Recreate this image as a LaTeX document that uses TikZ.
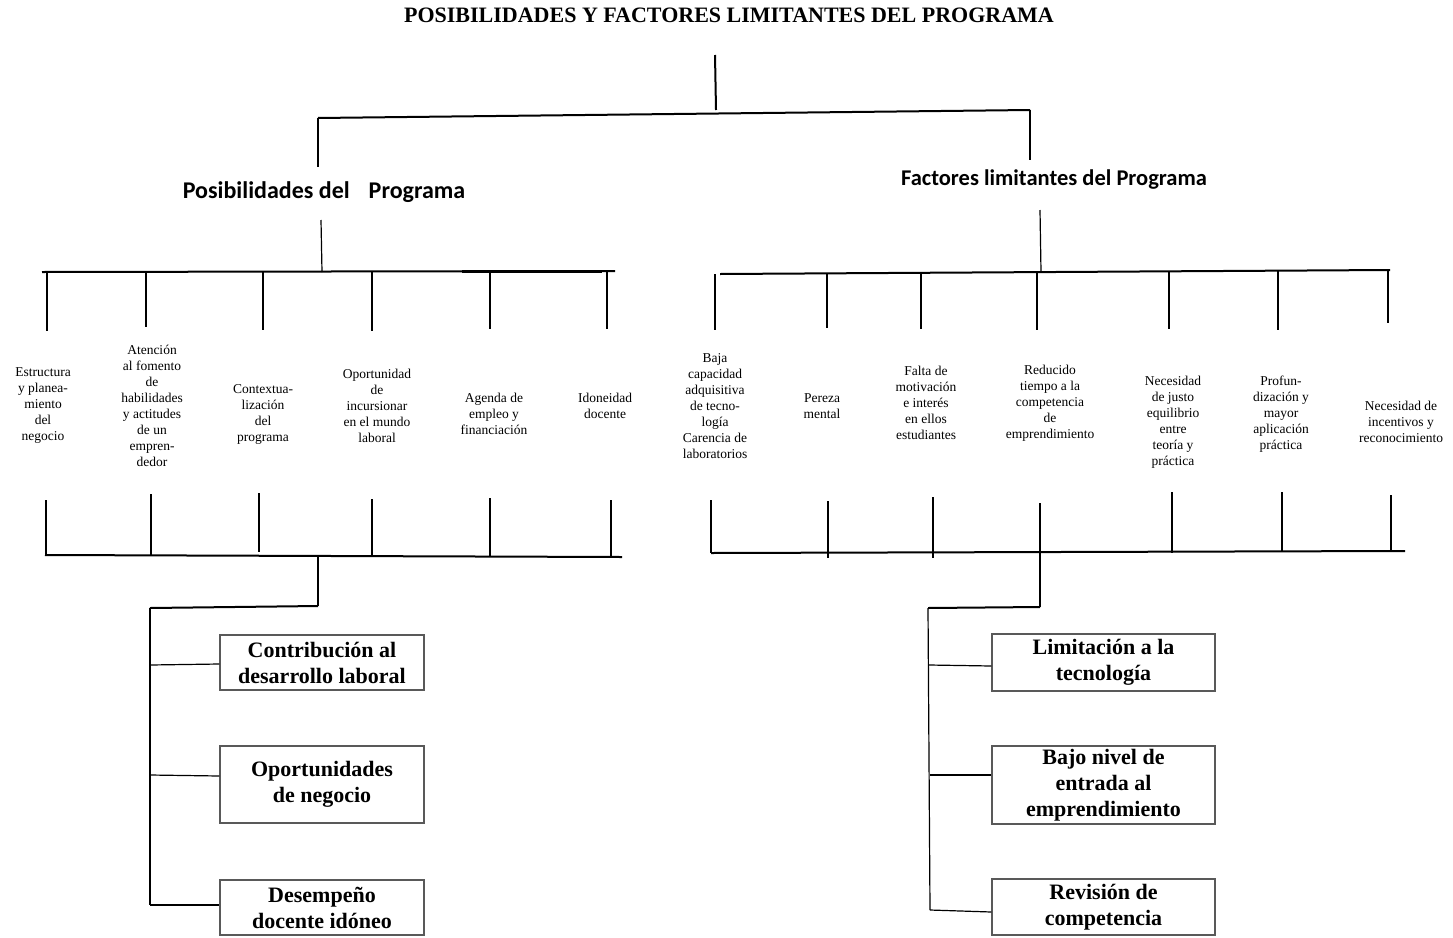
\documentclass[tikz,border=0pt]{standalone}
\usepackage{fontspec}
\setmainfont{Liberation Serif}
\newfontfamily\headfont{Carlito}
\begin{document}
\begin{tikzpicture}[x=1pt,y=-1pt,
  ln/.style={line width=1.2pt,black},
  thick line/.style={line width=2pt,black},
  sm/.style={align=center,inner sep=0pt,font=\rmfamily\fontsize{13.5}{16}\selectfont},
  head/.style={inner sep=0pt,font=\headfont\bfseries\fontsize{22.5}{26}\selectfont},
  bx/.style={draw=black!65,line width=1.4pt,align=center,inner sep=0pt,
    font=\rmfamily\bfseries\fontsize{22}{26}\selectfont}]
\useasboundingbox[fill=white] (0,0) rectangle (1453,937);

% title
\node[inner sep=0pt,font=\rmfamily\bfseries\fontsize{22}{24}\selectfont] (title) at (729,15)
  {POSIBILIDADES Y FACTORES LIMITANTES DEL PROGRAMA};

% headings
\node[head,font=\headfont\bfseries\fontsize{24}{28}\selectfont] (hL) at (324,192) {Posibilidades del\hspace{19pt}Programa};
\node[head] (hR) at (1054,180) {Factores limitantes del Programa};

% top connectors
\coordinate (top1) at (715,55);
\coordinate (top2) at (716,110);
\coordinate (mL) at (318,118);
\coordinate (mR) at (1030,110);
\coordinate (mLd) at (318,167);
\coordinate (mRd) at (1030,160);
\draw[thick line] (top1) -- (top2);
\draw[thick line] (mL) -- (mR);
\draw[ln] (mL) -- (mLd);
\draw[ln] (mR) -- (mRd);

% under headings
\coordinate (hLa) at (321,220);
\coordinate (hLb) at (322,272);
\coordinate (hRa) at (1040,210);
\coordinate (hRb) at (1041,272);
\draw[ln] (hLa) -- (hLb);
\draw[ln] (hRa) -- (hRb);

% upper bars
\coordinate (bL1) at (42,272);
\coordinate (bL2) at (615,271);
\coordinate (bR1) at (720,274);
\coordinate (bR2) at (1390,270);
\draw[thick line] (bL1) -- (bL2);
\draw[thick line] (bR1) -- (bR2);
\coordinate (bLx1) at (462,271.5);
\coordinate (bLx2) at (602,271.5);
\draw[line width=3pt] (bLx1) -- (bLx2);

% item texts left
\node[sm] (l1) at (43,406) {Estructura\\y planea-\\miento\\del\\negocio};
\node[sm] (l2) at (152,406) {Atención\\al fomento\\de\\habilidades\\y actitudes\\de un\\empren-\\dedor};
\node[sm] (l3) at (263,414) {Contextua-\\lización\\del\\programa};
\node[sm] (l4) at (377,406) {Oportunidad\\de\\incursionar\\en el mundo\\laboral};
\node[sm] (l5) at (494,414) {Agenda de\\empleo y\\financiación};
\node[sm] (l6) at (605,406) {Idoneidad\\docente};

% item texts right
\node[sm] (r1) at (715,406) {Baja\\capacidad\\adquisitiva\\de tecno-\\logía\\Carencia de\\laboratorios};
\node[sm] (r2) at (822,406) {Pereza\\mental};
\node[sm] (r3) at (926,403) {Falta de\\motivación\\e interés\\en ellos\\estudiantes};
\node[sm] (r4) at (1050,403) {Reducido\\tiempo a la\\competencia\\de\\emprendimiento};
\node[sm] (r5) at (1173,422) {Necesidad\\de justo\\equilibrio\\entre\\teoría y\\práctica};
\node[sm] (r6) at (1281,414) {Profun-\\dización y\\mayor\\aplicación\\práctica};
\node[sm] (r7) at (1401,422) {Necesidad de\\incentivos y\\reconocimiento};

% upper verticals
\foreach \x/\a/\b [count=\i] in {47/272/331,146/272/327,263/272/330,372/272/331,490/272/329,607/272/329} {
  \coordinate (uLa\i) at (\x,\a);
  \coordinate (uLb\i) at (\x,\b);
  \draw[ln] (uLa\i) -- (uLb\i);
}
\foreach \x/\a/\b [count=\i] in {715/274/330,827/273/328,921/273/329,1037/273/330,1169/272/329,1278/271/330,1388/270/323} {
  \coordinate (uRa\i) at (\x,\a);
  \coordinate (uRb\i) at (\x,\b);
  \draw[ln] (uRa\i) -- (uRb\i);
}

% lower verticals
\foreach \x/\a/\b [count=\i] in {46/500/555,151/494/555,259/493/552,372/499/556,490/498/556,611/500/557} {
  \coordinate (dLa\i) at (\x,\a);
  \coordinate (dLb\i) at (\x,\b);
  \draw[ln] (dLa\i) -- (dLb\i);
}
\foreach \x/\a/\b [count=\i] in {711/500/553,828/501/558,933/497/558,1040/503/553,1172/492/553,1282/492/552,1391/495/551} {
  \coordinate (dRa\i) at (\x,\a);
  \coordinate (dRb\i) at (\x,\b);
  \draw[ln] (dRa\i) -- (dRb\i);
}

% lower bars
\coordinate (lbL1) at (45,555);
\coordinate (lbL2) at (622,557);
\coordinate (lbR1) at (711,553);
\coordinate (lbR2) at (1405,551);
\draw[thick line] (lbL1) -- (lbL2);
\draw[thick line] (lbR1) -- (lbR2);

% boxes
\node[bx,minimum width=204pt,minimum height=55pt] (bl1) at (322,662.5) {Contribución al\\desarrollo laboral};
\node[bx,minimum width=204pt,minimum height=77pt] (bl2) at (322,784.5) {Oportunidades\\de negocio};
\node[bx,minimum width=204pt,minimum height=55pt] (bl3) at (322,907.5) {Desempeño\\docente idóneo};
\node[bx,minimum width=223pt,minimum height=57pt] (br1) at (1103.5,662.5) {Limitación a la\\tecnología};
\node[bx,minimum width=223pt,minimum height=78pt] (br2) at (1103.5,785) {Bajo nivel de\\entrada al\\emprendimiento};
\node[bx,minimum width=223pt,minimum height=56pt] (br3) at (1103.5,907) {Revisión de\\competencia};

% left tree to boxes
\coordinate (pL0) at (318,556);
\coordinate (pL1) at (318,606);
\coordinate (pL2) at (150,608);
\coordinate (pL3) at (150,905);
\coordinate (sL1) at (150,665);
\coordinate (sL2) at (150,775);
\draw[ln] (pL0) -- (pL1);
\draw[thick line] (pL1) -- (pL2);
\draw[ln] (pL2) -- (pL3);
\draw[ln] (sL1) -- (bl1.west |- 0,664);
\draw[ln] (sL2) -- (bl2.west |- 0,776);
\draw[ln] (pL3) -- (bl3.west |- 0,905);

% right tree to boxes
\coordinate (pR0) at (1040,553);
\coordinate (pR1) at (1040,607);
\coordinate (pR2) at (928,608);
\coordinate (pR3) at (930,910);
\coordinate (sR1) at (929,665);
\coordinate (sR2) at (930,775);
\draw[ln] (pR0) -- (pR1);
\draw[thick line] (pR1) -- (pR2);
\draw[ln] (pR2) -- (pR3);
\draw[ln] (sR1) -- (br1.west |- 0,666);
\draw[ln] (sR2) -- (br2.west |- 0,775);
\draw[ln] (pR3) -- (br3.west |- 0,912);
\end{tikzpicture}
\end{document}
